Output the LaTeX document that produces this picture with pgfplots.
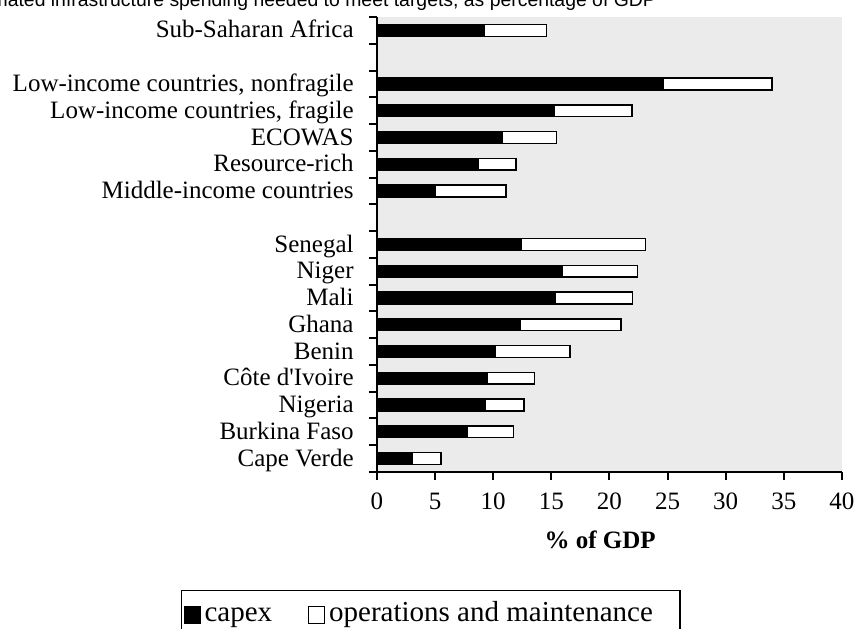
\documentclass[border=0pt]{standalone}
\usepackage{pgfplots}
\pgfplotsset{compat=1.18}
\usepackage{pgfplotstable}
\usepackage{fontspec}
\setmainfont{Liberation Serif}
\newfontfamily\plainserif{Liberation Serif}
\newfontfamily\titlefont{Liberation Sans}
\definecolor{plotbg}{HTML}{EBEBEB}

% capex and O&M, in % of GDP; rows 9 and 15 are spacer rows
\pgfplotstableread{
y capex om
0 3.05 2.45
1 7.8 3.95
2 9.3 3.35
3 9.45 4.1
4 10.2 6.4
5 12.35 8.65
6 15.35 6.65
7 15.95 6.45
8 12.45 10.65
10 5.0 6.1
11 8.7 3.25
12 10.8 4.65
13 15.25 6.7
14 24.6 9.4
16 9.25 5.35
}\spending

\begin{document}
\begin{tikzpicture}
\begin{axis}[
    scale only axis,
    width=232.5pt, height=227.5pt,
    xbar stacked,
    bar width=0.44,
    xmin=0, xmax=40,
    ymin=-0.5, ymax=16.5,
    axis lines=left,
    axis line style={-, line width=1pt},
    axis background/.style={fill=plotbg},
    xtick={0,5,...,40},
    ytick={0,...,16},
    yticklabels={Cape Verde, Burkina Faso, Nigeria, {\plainserif C\^ote d'Ivoire}, Benin, Ghana, Mali, Niger, Senegal, {}, Middle-income countries, Resource-rich, ECOWAS, {Low-income countries, fragile}, {Low-income countries, nonfragile}, {}, Sub-Saharan Africa},
    minor ytick={-0.5,0.5,...,16.5},
    tick align=outside,
    major tick length=4pt,
    minor tick length=4pt,
    major y tick style={draw=none},
    minor y tick style={line width=1pt, black},
    major x tick style={line width=1pt, black},
    tick label style={font=\fontsize{12.5}{14}\selectfont},
    /pgf/number format/assume math mode=true,
    yticklabel style={inner xsep=0pt, anchor=mid east, xshift=-7.5pt, yshift=-1.5pt},
    xticklabel style={yshift=-3pt},
    xlabel={\textbf{\% of GDP}},
    xlabel style={font=\fontsize{12.5}{14}\selectfont, at={(axis description cs:0.48,0)}, anchor=base, yshift=-38pt},
    legend columns=2,
    legend style={at={(axis description cs:-0.4215,-0.2593)}, anchor=north west,
        draw=black, line width=0.6pt, inner xsep=1pt, inner ysep=5pt,
        font=\fontsize{14.5}{17}\selectfont,
        nodes={inner xsep=2pt, text height=0.87em, text depth=0.22em},
        /tikz/every even column/.append style={column sep=16pt}},
    legend image code/.code={\draw[#1, line width=0.5pt] (0pt,-4pt) rectangle (8pt,4.5pt);},
]
\addplot[fill=black, draw=black, line width=0.75pt] table[x=capex, y=y] {\spending};
\addlegendentry{capex}
\addplot[fill=white, draw=black, line width=0.75pt] table[x=om, y=y] {\spending};
\addlegendentry{operations and maintenance\hspace*{10.5pt}}
\end{axis}
\node[anchor=base east, font=\titlefont\fontsize{9.7}{11}\selectfont] at (143pt,233pt)
    {Estimated infrastructure spending needed to meet targets, as percentage of GDP};
\pgfresetboundingbox
\path[use as bounding box] (-188.5pt,-78pt) rectangle (240pt,236pt);
\end{tikzpicture}
\end{document}
